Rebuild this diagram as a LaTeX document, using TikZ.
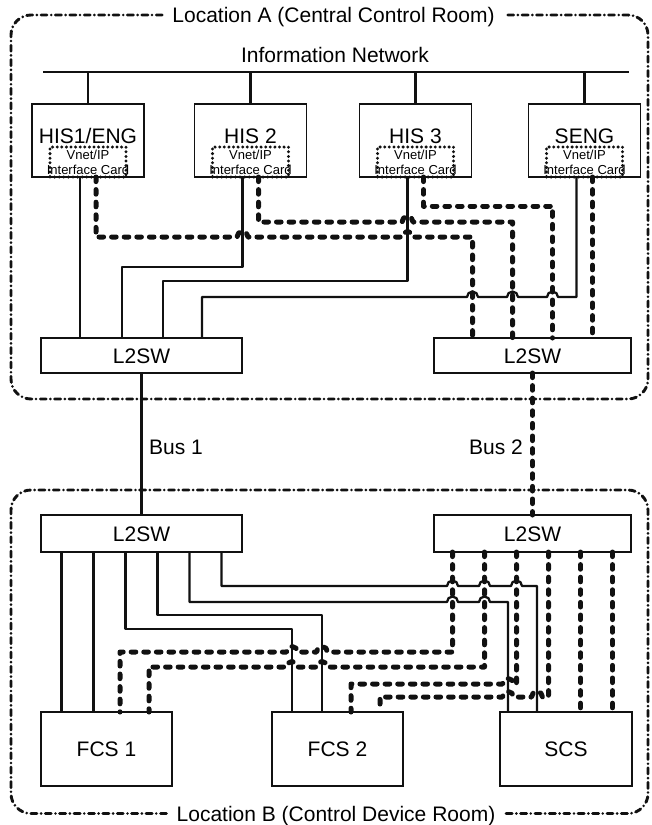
\documentclass[tikz,border=0pt]{standalone}
\usepackage{fontspec}
\setmainfont{Liberation Sans}
\usetikzlibrary{positioning,calc}
\definecolor{netInk}{HTML}{111111}
\tikzset{
  station box/.style={
    rectangle, draw=netInk, line width=1.3pt,
    inner sep=0pt, outer sep=0pt,
    font=\fontsize{21}{25}\selectfont, text height=15pt, text depth=0pt,
  },
  station text/.style={
    font=\fontsize{21}{25}\selectfont, inner sep=0pt,
    text height=15pt, text depth=0pt,
  },
  card box/.style={
    rectangle, draw=netInk, line width=3.3pt, line cap=round,
    dash pattern=on 0pt off 4.6pt, inner sep=0pt, outer sep=0pt,
    minimum width=76pt, minimum height=30pt,
  },
  card text/.style={font=\fontsize{13}{15}\selectfont, align=center, inner sep=0pt},
  net line/.style={draw=netInk, line width=2.5pt},
  cable a/.style={draw=netInk, line width=2.3pt, line join=round},
  cable b/.style={
    draw=netInk, line width=5pt, line cap=round, line join=round,
    dash pattern=on 4.6pt off 8pt,
  },
  zone line/.style={
    draw=netInk, line width=2.9pt, line cap=round,
    dash pattern=on 6pt off 4.2pt on 0pt off 4.2pt, rounded corners=20pt,
  },
}

\begin{document}
\begin{tikzpicture}[x=1pt, y=-1pt]
\useasboundingbox (0,0) rectangle (651,825);

% --- ZONES ---
\node[station text] (zoneA) at (333.5,15) {Location A (Central Control Room)};
\node[station text] (zoneB) at (336,813.5) {Location B (Control Device Room)};
\draw[zone line] ([xshift=-10pt]zoneA.west) -| (11,399) -| (648,15) -- ([xshift=10pt]zoneA.east);
\draw[zone line] ([xshift=-10pt]zoneB.west) -| (11,490) -| (648,813.5) -- ([xshift=10pt]zoneB.east);

% --- INFORMATION NETWORK ---
\node[station text] (infonet) at (335,54.5) {Information Network};
\coordinate (netL) at (43,72);
\coordinate (netR) at (629,72);
\draw[net line] (netL) -- (netR);

% --- STATIONS ---
\node[station box, minimum width=112pt, minimum height=73pt] (his1) at (88,140.5) {};
\node[station box, minimum width=112pt, minimum height=73pt] (his2) at (250.5,140.5) {};
\node[station box, minimum width=112pt, minimum height=73pt] (his3) at (415.5,140.5) {};
\node[station box, minimum width=112pt, minimum height=73pt] (seng) at (584.5,140.5) {};
\node[station text] at ([yshift=5pt]his1.center) {HIS1/ENG};
\node[station text] at ([yshift=5pt]his2.center) {HIS 2};
\node[station text] at ([yshift=5pt]his3.center) {HIS 3};
\node[station text] at ([yshift=5pt]seng.center) {SENG};
\foreach \st in {his1,his2,his3,seng}{
  \draw[net line] (\st.north) -- (\st.north |- netL);
  \node[card box, anchor=south] (\st card) at (\st.south) {};
  \node[card text] at (\st card.center) {Vnet/IP\\Interface Card};
}

% --- SWITCHES AND CONTROLLERS ---
\node[station box, minimum width=201pt, minimum height=35pt] (swA1) at (141.5,355.5) {L2SW};
\node[station box, minimum width=197pt, minimum height=35pt] (swA2) at (532.5,355.5) {L2SW};
\node[station box, minimum width=201pt, minimum height=37pt] (swB1) at (141.5,533.5) {L2SW};
\node[station box, minimum width=197pt, minimum height=37pt] (swB2) at (532.5,533.5) {L2SW};
\node[station box, minimum width=131pt, minimum height=74pt] (fcs1) at (106.5,749) {FCS 1};
\node[station box, minimum width=131pt, minimum height=74pt] (fcs2) at (337.5,749) {FCS 2};
\node[station box, minimum width=132pt, minimum height=74pt] (scs) at (566,749) {SCS};

% --- BUSES ---
\draw[net line, line width=3.4pt] (swA1.south) -- (swB1.north);
\draw[cable b] (swA2.south) -- (swB2.north);
\node[station text, anchor=west] (bus1) at (149,447) {Bus 1};
\node[station text, anchor=east] (bus2) at (523,447) {Bus 2};

% --- LOCATION A, BUS 1 SIDE ---
\draw[cable a] ([xshift=-8pt]his1.south) coordinate (up1) -- (up1 |- swA1.north);
\draw[cable a] ([xshift=-8pt]his2.south) |- (122,267) -- (122,267 |- swA1.north);
\draw[cable a] ([xshift=-8pt]his3.south) |- (163,281) -- (163,281 |- swA1.north);
\draw[cable a] ([xshift=-8pt]seng.south) |- (558,297)
  arc[start angle=0, end angle=180, radius=5.5pt] -- (518,297)
  arc[start angle=0, end angle=180, radius=5.5pt] -- (478,297)
  arc[start angle=0, end angle=180, radius=5.5pt] -- (202,297) -- (202,297 |- swA1.north);

% --- LOCATION A, BUS 2 SIDE ---
\draw[cable b] ([xshift=8pt]his1.south) |- (237,237)
  arc[start angle=180, end angle=0, radius=5.5pt] -- (402,237)
  arc[start angle=180, end angle=0, radius=5.5pt] -- (472.5,237) -- (472.5,237 |- swA2.north);
\draw[cable b] ([xshift=8pt]his2.south) |- (402,222)
  arc[start angle=180, end angle=0, radius=5.5pt] -- (512.5,222) -- (512.5,222 |- swA2.north);
\draw[cable b] ([xshift=8pt]his3.south) |- (552.5,206) -- (552.5,206 |- swA2.north);
\draw[cable b] ([xshift=8pt]seng.south) coordinate (up8) -- (up8 |- swA2.north);

% --- LOCATION B, BUS 1 SIDE ---
\draw[cable a] ([xshift=-80pt]swB1.south) coordinate (lo1) -- (lo1 |- fcs1.north);
\draw[cable a] ([xshift=-48pt]swB1.south) coordinate (lo2) -- (lo2 |- fcs1.north);
\draw[cable a] ([xshift=-16pt]swB1.south) |- (292,629) -- (292,629 |- fcs2.north);
\draw[cable a] ([xshift=16pt]swB1.south) |- (322,615) -- (322,615 |- fcs2.north);
\draw[cable a] ([xshift=48pt]swB1.south) |- (447,602)
  arc[start angle=180, end angle=0, radius=5.5pt] -- (479,602)
  arc[start angle=180, end angle=0, radius=5.5pt] -- (508,602) -- (508,602 |- scs.north);
\draw[cable a] ([xshift=80pt]swB1.south) |- (447,586)
  arc[start angle=180, end angle=0, radius=5.5pt] -- (479,586)
  arc[start angle=180, end angle=0, radius=5.5pt] -- (511,586)
  arc[start angle=180, end angle=0, radius=5.5pt] -- (537,586) -- (537,586 |- scs.north);

% --- LOCATION B, BUS 2 SIDE ---
\draw[cable b] ([xshift=-80pt]swB2.south) |- (327.5,652)
  arc[start angle=0, end angle=180, radius=5.5pt] -- (297.5,652)
  arc[start angle=0, end angle=180, radius=5.5pt] -- (120,652) -- (120,652 |- fcs1.north);
\draw[cable b] ([xshift=-48pt]swB2.south) |- (327.5,667)
  arc[start angle=0, end angle=180, radius=5.5pt] -- (297.5,667)
  arc[start angle=0, end angle=180, radius=5.5pt] -- (149,667) -- (149,667 |- fcs1.north);
\draw[cable b] ([xshift=-16pt]swB2.south) |- (513.5,684)
  arc[start angle=0, end angle=180, radius=5.5pt] -- (351,684) -- (351,684 |- fcs2.north);
\draw[cable b] ([xshift=16pt]swB2.south) |- (542.5,697)
  arc[start angle=0, end angle=180, radius=5.5pt] -- (513.5,697)
  arc[start angle=0, end angle=180, radius=5.5pt] -- (380,697) -- (380,697 |- fcs2.north);
\draw[cable b] ([xshift=48pt]swB2.south) coordinate (lo11) -- (lo11 |- scs.north);
\draw[cable b] ([xshift=80pt]swB2.south) coordinate (lo12) -- (lo12 |- scs.north);

\end{tikzpicture}
\end{document}
